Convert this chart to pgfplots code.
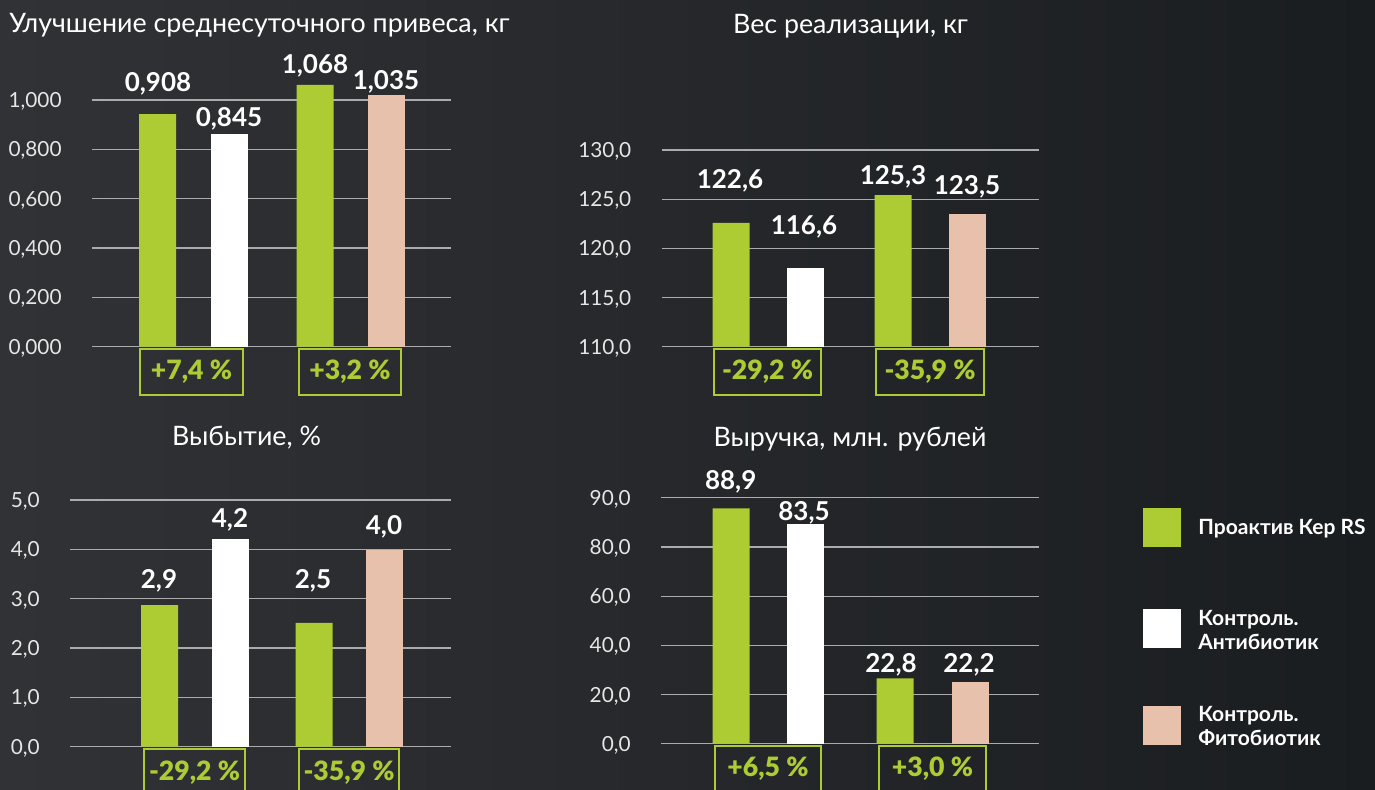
\documentclass[border=0pt]{standalone}
\usepackage{fontspec}
\setmainfont{Lato}
\newfontface\heavy{Lato Black}
\usepackage{pgfplots}
\pgfplotsset{compat=1.18}
\definecolor{pgreen}{HTML}{ADCB33}
\definecolor{ppink}{HTML}{E8C1AD}
\definecolor{pgrid}{HTML}{ABABAB}
\definecolor{bgL}{HTML}{313236}
\definecolor{bgR}{HTML}{1A1D20}
\definecolor{tickc}{HTML}{E6E6E6}

\pgfplotsset{
  panel/.style={
    scale only axis,
    anchor=south west,
    axis line style={draw=none},
    xtick=\empty,
    major tick length=0pt,
    ymajorgrids,
    grid style={pgrid, line width=0.6pt},
    yticklabel style={anchor=base east, inner sep=0pt, xshift=-15pt, yshift=-3.75pt,
      font=\fontsize{10.4}{12}\selectfont, text=tickc},
  },
  gbar/.style={ybar, bar width=37, bar shift=0pt, fill=pgreen, draw=none},
  wbar/.style={ybar, bar width=37, bar shift=0pt, fill=white, draw=none},
  pbar/.style={ybar, bar width=37, bar shift=0pt, fill=ppink, draw=none},
}

\begin{document}
\begin{tikzpicture}
\begin{scope}[x=0.5pt,y=-0.5pt]
\fill[left color=bgL,right color=bgR] (0,0) rectangle (1375,790);
\end{scope}

% Panel 1
\begin{axis}[panel, at={(46pt,-173.35pt)}, width=179.5pt, height=123.35pt,
  xmin=92, xmax=451, ymin=0, ymax=1, clip=false,
  ytick={0,0.2,0.4,0.6,0.8,1},
  yticklabels={{0,000},{0,200},{0,400},{0,600},{0,800},{1,000}}]
\addplot[gbar] coordinates {(157.5,0.943) (315,1.061)};
\addplot[wbar] coordinates {(229,0.862)};
\addplot[pbar] coordinates {(386,1.020)};
\end{axis}

% Panel 2
\begin{axis}[panel, at={(330.85pt,-173.35pt)}, width=188.65pt, height=98.35pt,
  xmin=661.7, xmax=1039, ymin=110, ymax=130, clip=true,
  ytick={110,115,120,125,130},
  yticklabels={{110,0},{115,0},{120,0},{125,0},{130,0}}]
\addplot[gbar] coordinates {(731,122.58) (893,125.42)};
\addplot[wbar] coordinates {(805,118.0)};
\addplot[pbar] coordinates {(967,123.49)};
\end{axis}

% Panel 3
\begin{axis}[panel, at={(35pt,-373.35pt)}, width=190.5pt, height=123.35pt,
  xmin=70, xmax=451, ymin=0, ymax=5, clip=false,
  ytick={0,1,2,3,4,5},
  yticklabels={{0,0},{1,0},{2,0},{3,0},{4,0},{5,0}}]
\addplot[gbar] coordinates {(159.5,2.87) (314,2.51)};
\addplot[wbar] coordinates {(230,4.21)};
\addplot[pbar] coordinates {(384,3.99)};
\end{axis}

% Panel 4
\begin{axis}[panel, at={(330.5pt,-371.85pt)}, width=189pt, height=123pt,
  xmin=661, xmax=1039, ymin=0, ymax=100, clip=false,
  ytick={0,20,40,60,80,100},
  yticklabels={{0,0},{20,0},{40,0},{60,0},{80,0},{90,0}}]
\addplot[gbar] coordinates {(731,95.7) (895,26.6)};
\addplot[wbar] coordinates {(805,89.2)};
\addplot[pbar] coordinates {(970,25.0)};
\end{axis}

\begin{scope}[x=0.5pt,y=-0.5pt,
  ttl/.style={anchor=base, text=white, inner sep=0pt, font=\fontsize{13.4}{15}\selectfont},
  val/.style={anchor=base, text=white, inner sep=0pt, font=\fontsize{13}{15}\selectfont\bfseries},
  bxt/.style={anchor=base, text=pgreen, inner sep=0pt, font=\fontsize{13.3}{15}\selectfont\heavy},
  bx/.style={draw=pgreen, line width=1.2pt},
  leg/.style={anchor=base west, text=white, inner sep=0pt, font=\fontsize{10.5}{12}\selectfont\bfseries}]
% titles
\node[ttl] at (259.5,33) {Улучшение среднесуточного привеса, кг};
\node[ttl] at (850.5,34) {Вес реализации, кг};
\node[ttl] at (246.5,446) {Выбытие, \%};
\node[ttl] at (850,446.5) {Выручка, млн. рублей};
% value labels
\node[val] at (158,91.7) {0,908};
\node[val] at (229,126.7) {0,845};
\node[val] at (315,74) {1,068};
\node[val] at (386,89.3) {1,035};
\node[val] at (730,188.3) {122,6};
\node[val] at (804,235) {116,6};
\node[val] at (893,184.3) {125,3};
\node[val] at (967,195) {123,5};
\node[val] at (159,588.3) {2,9};
\node[val] at (230,527.3) {4,2};
\node[val] at (313,588.3) {2,5};
\node[val] at (384,534.3) {4,0};
\node[val] at (730.7,490) {88,9};
\node[val] at (804,520.7) {83,5};
\node[val] at (891,672.3) {22,8};
\node[val] at (969,672.3) {22,2};
% boxes
\draw[bx] (140,349) rectangle (243,395);
\draw[bx] (299,349) rectangle (401,395);
\draw[bx] (714,349) rectangle (821,395);
\draw[bx] (876,349) rectangle (984,395);
\draw[bx] (144,749) rectangle (245,800);
\draw[bx] (299,749) rectangle (399,800);
\draw[bx] (715,746) rectangle (821,800);
\draw[bx] (879,746) rectangle (986,800);
\node[bxt] at (191.5,380) {+7,4 \%};
\node[bxt] at (350,380) {+3,2 \%};
\node[bxt] at (767.5,380) {-29,2 \%};
\node[bxt] at (930,380) {-35,9 \%};
\node[bxt] at (194.5,780) {-29,2 \%};
\node[bxt] at (349,780) {-35,9 \%};
\node[bxt] at (768,776.7) {+6,5 \%};
\node[bxt] at (932.5,776.7) {+3,0 \%};
% legend
\fill[pgreen] (1143,508) rectangle (1181,547);
\fill[white] (1143,609) rectangle (1181,648);
\fill[ppink] (1143,706) rectangle (1181,745);
\node[leg] at (1198,534.3) {Проактив Кер RS};
\node[leg] at (1198,625) {Контроль.};
\node[leg] at (1198,649) {Антибиотик};
\node[leg] at (1198,721) {Контроль.};
\node[leg] at (1198,745) {Фитобиотик};
\pgfresetboundingbox
\path[use as bounding box] (0,0) rectangle (1375,790);
\end{scope}
\end{tikzpicture}
\end{document}
